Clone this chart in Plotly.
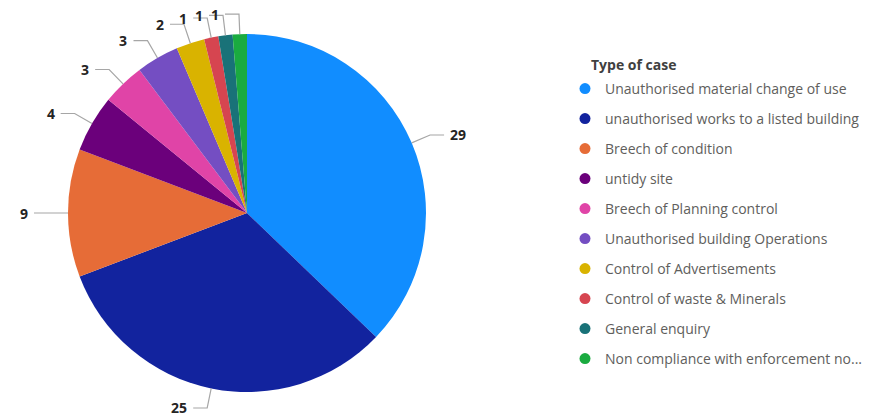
import math
import plotly.graph_objects as go

categories = [
    "Unauthorised material change of use",
    "unauthorised works to a listed building",
    "Breech of condition",
    "untidy site",
    "Breech of Planning control",
    "Unauthorised building Operations",
    "Control of Advertisements",
    "Control of waste & Minerals",
    "General enquiry",
    "Non compliance with enforcement notice",
]
legend_labels = categories[:-1] + ["Non compliance with enforcement no..."]
counts = [29, 25, 9, 4, 3, 3, 2, 1, 1, 1]
colors = ["#118DFF", "#12239E", "#E66C37", "#6B007B", "#E044A7",
          "#744EC2", "#D9B300", "#D64550", "#197278", "#1AAB40"]

W, H = 883, 418
CX, CY, R = 247, 213, 179    # pie centre / radius in pixels
FONT = "Segoe UI, Open Sans, sans-serif"

def px2paper(x, y):
    return x / W, 1 - y / H

fig = go.Figure()
fig.add_trace(go.Pie(
    labels=categories, values=counts, sort=False, direction="clockwise",
    rotation=0, marker=dict(colors=colors, line=dict(width=0)),
    textinfo="none", showlegend=False,
    hovertemplate="%{label}: %{value}<extra></extra>",
    domain=dict(x=[(CX - R) / W, (CX + R) / W],
                y=[1 - (CY + R) / H, 1 - (CY - R) / H]),
))

# legend entries with circular markers
for name, col in zip(legend_labels, colors):
    fig.add_trace(go.Scatter(
        x=[None], y=[None], mode="markers", name=name, legendgroup=name,
        marker=dict(color=col, size=11, symbol="circle"),
    ))

# data labels with leader lines
total = sum(counts)
cum = 0
shapes, annotations = [], []
for v in counts:
    mid = (cum + v / 2) / total * 2 * math.pi
    cum += v
    s, c = math.sin(mid), math.cos(mid)
    x0, y0 = CX + R * s, CY - R * c
    x1, y1 = CX + (R + 20) * s, CY - (R + 20) * c
    side = 1 if s >= 0 else -1
    x2 = x1 + side * 14
    p0, p1, p2 = px2paper(x0, y0), px2paper(x1, y1), px2paper(x2, y1)
    shapes.append(dict(
        type="path", xref="paper", yref="paper",
        path=f"M{p0[0]},{p0[1]} L{p1[0]},{p1[1]} L{p2[0]},{p2[1]}",
        line=dict(color="#A6A6A6", width=1.2),
    ))
    lx, ly = px2paper(x2 + side * 4, y1)
    annotations.append(dict(
        x=lx, y=ly, xref="paper", yref="paper", text=f"<b>{v}</b>",
        showarrow=False, xanchor="left" if side > 0 else "right",
        yanchor="middle",
        font=dict(family=FONT, size=14, color="#252423"),
    ))

tx, ty = px2paper(589, 64)
annotations.append(dict(
    x=tx, y=ty, xref="paper", yref="paper", text="<b>Type of case</b>",
    showarrow=False, xanchor="left", yanchor="middle",
    font=dict(family=FONT, size=14, color="#404040"),
))

lgx, lgy = px2paper(605 - 40, 73)
fig.update_layout(
    width=W, height=H, margin=dict(l=0, r=0, t=0, b=0),
    paper_bgcolor="white", plot_bgcolor="white",
    xaxis=dict(visible=False), yaxis=dict(visible=False),
    shapes=shapes, annotations=annotations,
    legend=dict(
        x=lgx, xanchor="left", y=lgy, yanchor="top",
        font=dict(size=14, color="#605E5C", family=FONT),
        tracegroupgap=8.8, itemclick=False, bgcolor="rgba(0,0,0,0)",
    ),
    showlegend=True,
)

fig.write_html(
    "out.html",
    config={"displayModeBar": False},
    post_script="document.body.style.margin='0';document.body.style.overflow='hidden';",
)
